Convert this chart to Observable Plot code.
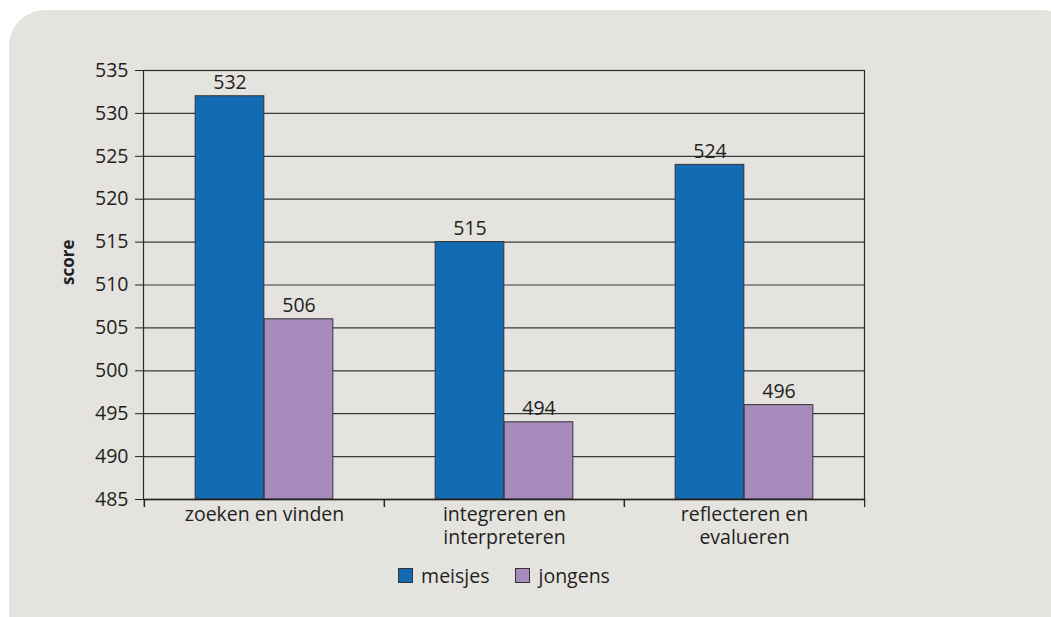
<!DOCTYPE html>
<html>
<head>
<meta charset="utf-8">
<script src="https://cdn.jsdelivr.net/npm/d3@7"></script>
<script src="https://cdn.jsdelivr.net/npm/@observablehq/plot@0.6"></script>
<style>
  html, body { margin: 0; padding: 0; background: #ffffff; width: 1051px; height: 617px; overflow: hidden; }
  #panel { position: absolute; left: 9px; top: 10px; width: 1060px; height: 620px; background: #e4e3df; border-radius: 36px 26px 0 0; }
  #chart { position: absolute; left: 0; top: 0; }
  #legend { position: absolute; left: 0; top: 562px; width: 1008px; display: flex; justify-content: center; gap: 26px;
            font-family: "Open Sans", sans-serif; font-size: 19.5px; color: #231f20; }
  .item { display: flex; align-items: center; gap: 8px; }
  .sw { width: 13px; height: 13px; border: 1px solid #333; }
</style>
</head>
<body>
<div id="panel"></div>
<div id="chart"></div>
<div id="legend"></div>
<script>
const categories = ["zoeken en vinden", "integreren en\ninterpreteren", "reflecteren en\nevalueren"];
const series = ["meisjes", "jongens"];
const meisjes = [532, 515, 524];
const jongens = [506, 494, 496];
const yTicks = [485, 490, 495, 500, 505, 510, 515, 520, 525, 530, 535];
const colors = ["#136bb4", "#a78bbc"];

const W = 1051, H = 560, ML = 143, MR = 187, MT = 70, MB = 61;
const half = (W - ML - MR) / categories.length / 2;
const barW = 69;
const ink = "#231f20";
const FS = 19.5;

const dM = categories.map((c, i) => ({cat: c, value: meisjes[i]}));
const dJ = categories.map((c, i) => ({cat: c, value: jongens[i]}));

const chart = Plot.plot({
  width: W, height: H,
  marginLeft: ML, marginRight: MR, marginTop: MT, marginBottom: MB,
  style: {fontFamily: "Open Sans, sans-serif", fontSize: FS + "px", color: ink, background: "transparent", overflow: "visible"},
  x: {type: "band", domain: categories, padding: 0, axis: null},
  y: {domain: [485, 535], axis: null},
  marks: [
    Plot.ruleY(yTicks, {stroke: "#3a3a3a", strokeWidth: 1.2}),
    Plot.barY(dM, {x: "cat", y1: 485, y2: "value", fill: colors[0], stroke: "#333", strokeWidth: 1, insetLeft: half - barW, insetRight: half}),
    Plot.barY(dJ, {x: "cat", y1: 485, y2: "value", fill: colors[1], stroke: "#333", strokeWidth: 1, insetLeft: half, insetRight: half - barW}),
    Plot.text(dM, {x: "cat", y: "value", text: d => String(d.value), dx: -barW / 2, dy: -7, lineAnchor: "bottom", fill: ink, fontSize: FS}),
    Plot.text(dJ, {x: "cat", y: "value", text: d => String(d.value), dx: barW / 2, dy: -7, lineAnchor: "bottom", fill: ink, fontSize: FS}),
    Plot.frame({stroke: "#2a2a2a", strokeWidth: 1.2}),
    Plot.ruleY([485], {stroke: "#222", strokeWidth: 1.5}),
    Plot.axisY({ticks: yTicks, tickSize: 8, tickPadding: 7, stroke: "#222", fill: ink, fontSize: FS, label: null}),
    Plot.ruleX(categories, {x: d => d, y1: 485, y2: 485, insetBottom: -8, dx: -half, stroke: "#222", strokeWidth: 1.5}),
    Plot.ruleX([categories[categories.length - 1]], {x: d => d, y1: 485, y2: 485, insetBottom: -8, dx: half, stroke: "#222", strokeWidth: 1.2}),
    Plot.text(categories, {x: d => d, frameAnchor: "bottom", lineAnchor: "top", dy: 6, lineHeight: 1.15, fill: ink, fontSize: FS}),
    Plot.text(["score"], {frameAnchor: "left", rotate: -90, dx: -75, fontWeight: "bold", fontSize: 17, fill: ink})
  ]
});
document.getElementById("chart").appendChild(chart);

const legend = document.getElementById("legend");
series.forEach((s, i) => {
  const item = document.createElement("div");
  item.className = "item";
  const sw = document.createElement("div");
  sw.className = "sw";
  sw.style.background = colors[i];
  const t = document.createElement("span");
  t.textContent = s;
  item.appendChild(sw); item.appendChild(t);
  legend.appendChild(item);
});
</script>
</body>
</html>
